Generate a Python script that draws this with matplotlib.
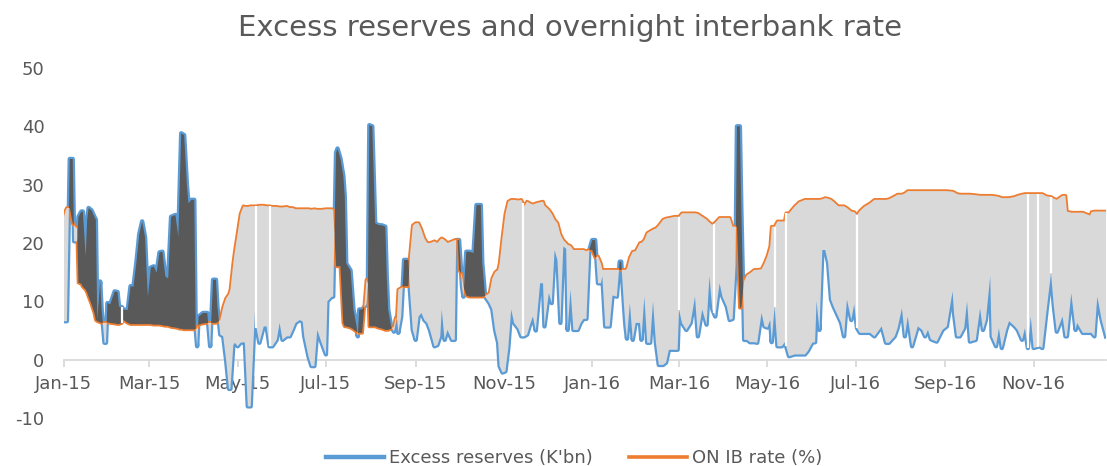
import numpy as np
import matplotlib
matplotlib.use("Agg")
import matplotlib.pyplot as plt
import matplotlib.dates as mdates

# ---------------- data ----------------
start_date = "2015-01-01"
# days since 2015-01-01
day = [0, 1, 2, 4, 6, 7, 9, 10, 12, 13, 15, 16, 17, 19, 21, 22, 23, 25, 26, 28,
       29, 30, 32, 35, 37, 38, 40, 41, 44, 46, 48, 50, 52, 54, 56, 57, 58, 60, 62, 64,
       66, 68, 70, 72, 74, 77, 79, 80, 81, 83, 85, 86, 88, 90, 91, 92, 93, 96, 99, 101,
       103, 105, 106, 108, 110, 112, 114, 115, 117, 118, 120, 122, 124, 125, 127, 129, 131, 132, 133, 135,
       138, 140, 142, 144, 147, 149, 151, 154, 156, 158, 160, 163, 165, 166, 169, 171, 173, 175, 178, 181,
       182, 185, 186, 188, 189, 191, 193, 194, 195, 198, 200, 202, 203, 204, 206, 209, 210, 211, 213, 215,
       217, 220, 222, 223, 224, 226, 228, 229, 230, 231, 233, 235, 238, 239, 241, 243, 245, 247, 249, 251,
       253, 256, 258, 260, 261, 263, 265, 268, 270, 271, 272, 273, 275, 276, 278, 280, 283, 285, 288, 289,
       291, 294, 296, 298, 300, 301, 303, 305, 307, 309, 311, 314, 316, 318, 320, 322, 324, 326, 329, 331,
       332, 335, 337, 339, 341, 343, 345, 347, 348, 350, 352, 355, 357, 359, 361, 363, 365, 367, 369, 371,
       372, 374, 377, 379, 382, 384, 385, 387, 388, 389, 391, 393, 395, 398, 399, 401, 403, 405, 407, 409,
       411, 414, 416, 418, 422, 424, 425, 427, 430, 433, 436, 438, 441, 444, 446, 448, 450, 453, 455, 458,
       460, 462, 464, 465, 467, 468, 470, 472, 474, 477, 479, 482, 484, 486, 488, 489, 491, 493, 496, 498,
       499, 501, 505, 508, 512, 514, 517, 519, 520, 522, 524, 526, 528, 530, 532, 535, 537, 539, 541, 544,
       546, 548, 550, 553, 557, 560, 565, 568, 570, 574, 576, 579, 581, 583, 586, 590, 593, 595, 597, 599,
       603, 607, 610, 614, 615, 617, 619, 622, 624, 626, 630, 633, 635, 637, 640, 641, 644, 646, 648, 651,
       653, 657, 659, 662, 664, 666, 668, 670, 674, 676, 679, 682, 684, 686, 690, 692, 693, 696, 699, 700,
       704, 709, 710, 712, 714, 717, 720]

reserves = [6.6, 6.6, 6.6, 34.4, 34.4, 20.3, 20.3, 24.5, 25.4, 25.4, 17.7, 24.0, 26.0, 25.6, 24.5, 24.0, 6.8, 13.4, 8.6, 2.9,
            2.9, 9.7, 9.5, 11.7, 11.6, 9.1, 9.0, 8.6, 8.5, 12.6, 12.5, 16.6, 21.5, 23.7, 21.0, 15.4, 10.8, 15.8, 16.0, 14.9,
            18.4, 18.5, 14.3, 13.9, 24.5, 24.8, 21.1, 30.0, 38.8, 38.5, 29.7, 26.8, 27.4, 27.4, 5.3, 2.3, 7.4, 8.0, 8.0, 2.3,
            13.7, 13.7, 9.1, 4.3, 4.0, 0.0, -5.0, -5.0, 2.5, 2.9, 2.3, 2.9, 3.0, 2.9, -8.0, -8.0, 3.4, 8.6, 5.5, 2.9,
            5.7, 5.7, 2.3, 2.3, 3.4, 6.3, 3.4, 4.0, 4.0, 5.1, 6.3, 6.8, 6.5, 4.0, 0.5, -1.1, -1.1, 5.1, 2.9, 0.9,
            10.0, 10.8, 10.8, 35.5, 36.2, 34.5, 31.5, 28.0, 16.5, 15.3, 8.6, 6.0, 4.0, 8.6, 8.6, 9.5, 13.1, 40.2, 40.0, 23.4,
            23.1, 23.0, 22.8, 14.3, 8.6, 5.7, 4.8, 6.0, 7.4, 4.6, 7.4, 17.1, 17.1, 12.0, 5.1, 3.4, 7.4, 8.0, 6.8, 6.3,
            5.0, 2.3, 2.5, 4.0, 8.6, 3.4, 5.1, 3.4, 3.4, 20.5, 20.5, 20.5, 12.6, 10.8, 18.5, 18.5, 18.3, 26.5, 26.5, 16.6,
            10.8, 9.7, 8.6, 5.0, 2.9, -1.1, -2.2, -2.0, 2.0, 8.6, 6.3, 5.3, 4.0, 4.0, 4.3, 6.0, 7.4, 5.0, 13.1, 13.1,
            5.7, 11.4, 9.7, 18.8, 17.0, 6.3, 19.4, 19.0, 5.1, 12.0, 5.1, 5.1, 6.3, 7.0, 7.0, 18.8, 20.5, 20.5, 13.1, 13.1,
            14.3, 5.7, 5.7, 11.0, 10.8, 16.8, 16.8, 9.1, 5.7, 3.6, 9.7, 3.4, 6.3, 6.3, 3.4, 10.8, 2.9, 2.9, 10.0, 2.9,
            -0.9, -0.9, -0.5, 1.7, 1.7, 1.7, 8.6, 6.3, 5.1, 6.3, 10.8, 4.0, 8.6, 6.0, 14.3, 8.6, 7.4, 13.1, 10.8, 9.1,
            6.8, 7.0, 16.0, 40.0, 40.0, 26.0, 3.4, 3.4, 3.0, 3.0, 2.9, 8.0, 5.7, 5.5, 6.8, 3.0, 9.1, 2.3, 2.3, 3.0,
            2.3, 0.6, 0.9, 0.9, 0.9, 1.5, 2.9, 3.0, 10.0, 5.1, 18.8, 18.8, 16.6, 10.3, 9.0, 7.4, 6.3, 4.0, 10.3, 6.8,
            9.5, 5.4, 4.6, 4.6, 4.6, 4.0, 5.7, 2.9, 2.9, 4.0, 5.4, 8.8, 4.0, 7.4, 2.3, 5.7, 5.1, 4.0, 5.1, 3.5,
            3.1, 5.1, 5.7, 11.7, 7.9, 4.0, 4.0, 5.4, 10.0, 3.1, 3.4, 8.8, 5.1, 6.8, 14.3, 4.0, 2.3, 5.4, 2.0, 5.1,
            6.6, 5.7, 5.1, 3.4, 5.4, 2.0, 7.4, 2.0, 2.3, 2.0, 8.6, 14.8, 9.1, 4.8, 7.4, 4.0, 4.0, 11.4, 5.1, 6.3,
            4.6, 4.6, 4.6, 4.0, 10.8, 6.8, 4.0]

rate = [24.5, 25.5, 26.0, 26.0, 23.4, 23.0, 22.5, 13.2, 13.0, 12.5, 12.0, 11.5, 10.8, 9.5, 8.0, 6.8, 6.6, 6.4, 6.3, 6.3,
        6.3, 6.4, 6.3, 6.2, 6.1, 6.1, 6.3, 6.8, 6.3, 6.1, 6.1, 6.1, 6.1, 6.1, 6.1, 6.1, 6.1, 6.1, 6.0, 6.0,
        6.0, 5.9, 5.8, 5.8, 5.6, 5.5, 5.4, 5.3, 5.3, 5.2, 5.2, 5.2, 5.2, 5.2, 5.2, 5.4, 6.0, 6.2, 6.3, 6.3,
        6.3, 6.3, 6.4, 6.8, 9.0, 10.5, 11.2, 12.0, 16.6, 18.5, 21.7, 25.0, 26.3, 26.2, 26.2, 26.3, 26.3, 26.3, 26.3, 26.4,
        26.4, 26.3, 26.3, 26.2, 26.2, 26.1, 26.1, 26.2, 26.0, 26.0, 25.8, 25.8, 25.8, 25.8, 25.8, 25.7, 25.8, 25.7, 25.7, 25.8,
        25.8, 25.8, 25.7, 16.0, 16.0, 16.0, 6.3, 5.7, 5.7, 5.5, 5.2, 4.8, 4.6, 4.6, 4.6, 13.7, 13.0, 5.7, 5.7, 5.7,
        5.5, 5.3, 5.1, 5.1, 5.1, 5.3, 5.7, 7.0, 7.2, 12.0, 12.3, 12.6, 12.6, 17.7, 23.0, 23.4, 23.4, 22.3, 20.8, 20.0,
        20.0, 20.3, 20.0, 20.6, 20.8, 20.5, 20.0, 20.3, 20.5, 20.5, 20.5, 15.4, 14.5, 12.5, 11.0, 10.8, 10.8, 10.8, 10.8, 10.8,
        10.9, 11.4, 14.0, 15.0, 15.4, 16.5, 21.0, 25.0, 27.1, 27.4, 27.4, 27.3, 27.4, 26.3, 27.1, 26.8, 26.6, 26.8, 27.0, 27.1,
        26.4, 25.7, 25.0, 24.0, 23.4, 21.5, 20.5, 20.0, 19.7, 19.5, 18.8, 18.8, 18.8, 18.8, 18.6, 18.8, 18.8, 17.5, 17.7, 16.5,
        15.4, 15.4, 15.4, 15.4, 15.4, 15.4, 15.4, 15.4, 15.4, 15.6, 17.5, 18.5, 18.6, 20.0, 20.0, 20.5, 21.7, 22.0, 22.3, 22.5,
        23.0, 24.0, 24.2, 24.3, 24.5, 24.5, 24.5, 25.1, 25.1, 25.1, 25.1, 25.0, 24.5, 24.0, 23.5, 23.1, 23.5, 24.3, 24.3, 24.3,
        24.3, 22.8, 22.8, 22.8, 8.9, 8.9, 13.5, 14.5, 14.8, 15.4, 15.4, 15.5, 16.5, 17.7, 19.4, 22.8, 22.8, 23.7, 23.7, 23.7,
        25.1, 25.1, 26.3, 27.0, 27.4, 27.4, 27.4, 27.4, 27.4, 27.4, 27.5, 27.7, 27.6, 27.4, 27.0, 26.3, 26.3, 26.3, 26.0, 25.4,
        25.3, 24.8, 25.5, 26.2, 26.8, 27.4, 27.4, 27.4, 27.5, 28.0, 28.3, 28.3, 28.5, 28.9, 28.9, 28.9, 28.9, 28.9, 28.9, 28.9,
        28.9, 28.9, 28.9, 28.8, 28.7, 28.4, 28.3, 28.3, 28.3, 28.3, 28.2, 28.1, 28.1, 28.1, 28.1, 28.1, 28.0, 27.9, 27.7, 27.7,
        27.7, 27.9, 28.1, 28.3, 28.4, 28.4, 28.4, 28.4, 28.4, 28.4, 28.0, 27.9, 27.6, 27.4, 28.1, 28.1, 25.4, 25.2, 25.2, 25.2,
        25.2, 24.7, 25.3, 25.4, 25.4, 25.4, 25.4]

# days (since 2015-01-01) where the up/down bars are missing (white gaps)
gap_day = [40, 133, 142, 317, 425, 449, 491, 499, 548, 666, 673, 682]

tick_dates = ["2015-01-01", "2015-03-01", "2015-05-01", "2015-07-01", "2015-09-01", "2015-11-01",
              "2016-01-01", "2016-03-01", "2016-05-01", "2016-07-01", "2016-09-01", "2016-11-01"]
tick_labels = ["Jan-15", "Mar-15", "May-15", "Jul-15", "Sep-15", "Nov-15",
               "Jan-16", "Mar-16", "May-16", "Jul-16", "Sep-16", "Nov-16"]
y_ticks = [-10, 0, 10, 20, 30, 40, 50]

title = "Excess reserves and overnight interbank rate"
series_names = ["Excess reserves (K'bn)", "ON IB rate (%)"]
end_day = 720

# ---------------- drawing ----------------
TXT = "#595959"
BLUE = "#5b9bd5"
ORANGE = "#ed7d31"

start = np.datetime64(start_date)
dates = start + np.array(day).astype("timedelta64[D]")
x = mdates.date2num(dates)
res = np.array(reserves, dtype=float)
rt = np.array(rate, dtype=float)

fig = plt.figure(figsize=(11.07, 4.66), dpi=100)
W, H = 1107, 466
ax = fig.add_axes([64 / W, 1 - 418 / H, (1106 - 64) / W, (418 - 68) / H])

l1, = ax.plot(x, res, color=BLUE, lw=3.2, zorder=2, solid_joinstyle="round")
l2, = ax.plot(x, rt, color=ORANGE, lw=2.6, zorder=2, solid_joinstyle="round")
ax.fill_between(x, res, rt, where=res >= rt, interpolate=True, color="#595959", lw=0, zorder=3)
ax.fill_between(x, res, rt, where=rt > res, interpolate=True, color="#d9d9d9", lw=0, zorder=3)

gx = mdates.date2num(start + np.array(gap_day).astype("timedelta64[D]"))
lo = np.interp(gx, x, res)
hi = np.interp(gx, x, rt)
ax.vlines(gx, np.minimum(lo, hi), np.maximum(lo, hi), colors="white", lw=1.6, zorder=3.5)

ax.set_ylim(-10, 50)
ax.set_xlim(x[0], mdates.date2num(start + np.timedelta64(end_day, "D")))

for s in ["left", "right", "top"]:
    ax.spines[s].set_visible(False)
ax.spines["bottom"].set_position(("data", 0))
ax.spines["bottom"].set_color("#d9d9d9")
ax.spines["bottom"].set_linewidth(1.3)
ax.spines["bottom"].set_zorder(1)

ax.set_xticks(mdates.date2num(np.array(tick_dates, dtype="datetime64[D]")))
ax.set_xticklabels(tick_labels)
ax.set_yticks(y_ticks)
ax.set_yticklabels([str(v) for v in y_ticks])
ax.tick_params(axis="x", length=5, width=1.3, color="#d9d9d9", labelsize=13,
               labelcolor=TXT, pad=6)
ax.tick_params(axis="y", length=0, labelsize=13, labelcolor=TXT, pad=14)
ax.patch.set_alpha(0)

fig.text(570 / W, 1 - 28 / H, title, ha="center", va="center", fontsize=21, color=TXT)

leg = fig.legend([l1, l2], series_names, loc="center", bbox_to_anchor=(574 / W, 1 - 458 / H),
                 ncol=2, frameon=False, fontsize=13, handlelength=3.2, columnspacing=2.0,
                 handletextpad=0.3, borderpad=0.1)
for t in leg.get_texts():
    t.set_color(TXT)

fig.savefig("out.png", dpi=100)
